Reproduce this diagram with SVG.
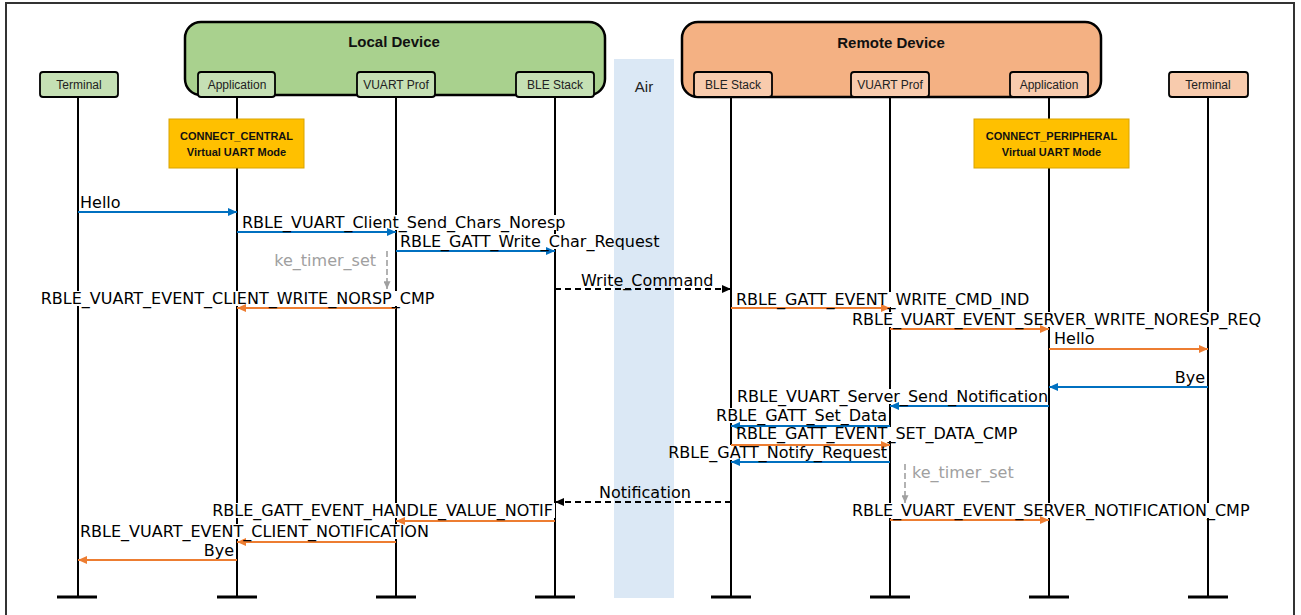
<svg xmlns="http://www.w3.org/2000/svg" width="1301" height="615" viewBox="0 0 1301 615">
<style>
.frame{fill:#fff;stroke:#333;stroke-width:2}
.dev{stroke:#000;stroke-width:2.5}
.part{stroke:#000;stroke-width:1.8}
.ptxt{font-family:"Liberation Sans",Arial,sans-serif;font-size:12px;fill:#222;text-anchor:middle}
.dtxt{font-family:"Liberation Sans",Arial,sans-serif;font-size:15px;font-weight:bold;fill:#111;text-anchor:middle}
.life{stroke:#000;stroke-width:2}
.tbar{stroke:#000;stroke-width:3}
.mode{fill:#ffc000;stroke:#d9a400;stroke-width:1}
.mtxt{font-family:"Liberation Sans",Arial,sans-serif;font-size:11px;font-weight:bold;fill:#111;text-anchor:middle}
.bg{fill:#fff}
.msg{font-family:"DejaVu Sans",Verdana,sans-serif;font-size:16px;fill:#000}
.gtxt{font-family:"DejaVu Sans",Verdana,sans-serif;font-size:16px;fill:#a0a0a0}
.blue{stroke:#0070c0;stroke-width:2;fill:none;marker-end:url(#ab)}
.orange{stroke:#ed7d31;stroke-width:2;fill:none;marker-end:url(#ao)}
.black{stroke:#000;stroke-width:2;fill:none;stroke-dasharray:6 4;marker-end:url(#ak)}
.gray{stroke:#a0a0a0;stroke-width:1.6;fill:none;stroke-dasharray:6 3;marker-end:url(#ag)}
</style>
<defs>
<marker id="ab" viewBox="0 0 9 8" refX="9" refY="4" markerWidth="9" markerHeight="8" markerUnits="userSpaceOnUse" orient="auto"><path d="M0,0 L9,4 L0,8 z" fill="#0070c0"/></marker>
<marker id="ao" viewBox="0 0 9 8" refX="9" refY="4" markerWidth="9" markerHeight="8" markerUnits="userSpaceOnUse" orient="auto"><path d="M0,0 L9,4 L0,8 z" fill="#ed7d31"/></marker>
<marker id="ak" viewBox="0 0 9 8" refX="9" refY="4" markerWidth="9" markerHeight="8" markerUnits="userSpaceOnUse" orient="auto"><path d="M0,0 L9,4 L0,8 z" fill="#000"/></marker>
<marker id="ag" viewBox="0 0 9 8" refX="9" refY="4" markerWidth="8" markerHeight="7" markerUnits="userSpaceOnUse" orient="auto"><path d="M0,0 L9,4 L0,8 z" fill="#a0a0a0"/></marker>
</defs>
<rect x="0" y="0" width="1301" height="615" fill="#fff"/>
<rect class="frame" x="6" y="3" width="1288" height="620"/>

<g id="local-device"><rect class="dev" x="185" y="22" width="420" height="73" rx="16" fill="#a9d18e"/><text class="dtxt" x="394" y="47">Local Device</text></g>
<g id="remote-device"><rect class="dev" x="682" y="22" width="419" height="75" rx="16" fill="#f4b183"/><text class="dtxt" x="891" y="48">Remote Device</text></g>

<g id="lifelines">
<line class="life" x1="78" y1="97" x2="78" y2="597"/>
<line class="life" x1="237" y1="97" x2="237" y2="597"/>
<line class="life" x1="396" y1="97" x2="396" y2="597"/>
<line class="life" x1="555" y1="97" x2="555" y2="597"/>
<line class="life" x1="731" y1="97" x2="731" y2="597"/>
<line class="life" x1="890" y1="97" x2="890" y2="597"/>
<line class="life" x1="1049" y1="97" x2="1049" y2="597"/>
<line class="life" x1="1208" y1="97" x2="1208" y2="597"/>
<line class="tbar" x1="57" y1="597" x2="97" y2="597"/>
<line class="tbar" x1="217" y1="597" x2="257" y2="597"/>
<line class="tbar" x1="376" y1="597" x2="416" y2="597"/>
<line class="tbar" x1="535" y1="597" x2="575" y2="597"/>
<line class="tbar" x1="711" y1="597" x2="751" y2="597"/>
<line class="tbar" x1="870" y1="597" x2="910" y2="597"/>
<line class="tbar" x1="1029" y1="597" x2="1069" y2="597"/>
<line class="tbar" x1="1188" y1="597" x2="1228" y2="597"/>
</g>

<g id="terminal-local"><rect class="part" x="40" y="72" width="78" height="25" rx="3" fill="#c5e0b4"/><text class="ptxt" x="79" y="89">Terminal</text></g>
<g id="application-local"><rect class="part" x="198" y="72" width="77" height="25" rx="3" fill="#c5e0b4"/><text class="ptxt" x="237" y="89">Application</text></g>
<g id="vuart-local"><rect class="part" x="357" y="72" width="78" height="25" rx="3" fill="#c5e0b4"/><text class="ptxt" x="396" y="89">VUART Prof</text></g>
<g id="ble-local"><rect class="part" x="516" y="72" width="78" height="25" rx="3" fill="#c5e0b4"/><text class="ptxt" x="555" y="89">BLE Stack</text></g>
<g id="ble-remote"><rect class="part" x="694" y="72" width="78" height="25" rx="3" fill="#f8cbad"/><text class="ptxt" x="733" y="89">BLE Stack</text></g>
<g id="vuart-remote"><rect class="part" x="851" y="72" width="78" height="25" rx="3" fill="#f8cbad"/><text class="ptxt" x="890" y="89">VUART Prof</text></g>
<g id="application-remote"><rect class="part" x="1010" y="72" width="78" height="25" rx="3" fill="#f8cbad"/><text class="ptxt" x="1049" y="89">Application</text></g>
<g id="terminal-remote"><rect class="part" x="1169" y="72" width="79" height="25" rx="3" fill="#f8cbad"/><text class="ptxt" x="1208" y="89">Terminal</text></g>

<g id="mode-central"><rect class="mode" x="169" y="119" width="135" height="49"/><text class="mtxt" x="236.5" y="140">CONNECT_CENTRAL</text><text class="mtxt" x="236.5" y="156">Virtual UART Mode</text></g>
<g id="mode-peripheral"><rect class="mode" x="974" y="119" width="155" height="49"/><text class="mtxt" x="1051.5" y="140">CONNECT_PERIPHERAL</text><text class="mtxt" x="1051.5" y="156">Virtual UART Mode</text></g>

<g id="label-backgrounds">
<rect class="bg" x="241" y="215" width="327" height="15"/>
<rect class="bg" x="399" y="234" width="266" height="15"/>
<rect class="bg" x="36" y="291" width="404" height="15"/>
<rect class="bg" x="735" y="292" width="301" height="15"/>
<rect class="bg" x="851" y="312" width="414" height="15"/>
<rect class="bg" x="736" y="389" width="312" height="15"/>
<rect class="bg" x="711" y="408" width="178" height="15"/>
<rect class="bg" x="735" y="427" width="287" height="14"/>
<rect class="bg" x="664" y="445" width="225" height="15"/>
<rect class="bg" x="851" y="503" width="406" height="15"/>
<rect class="bg" x="206" y="503" width="349" height="15"/>
<rect class="bg" x="79" y="524" width="361" height="15"/>
</g>

<g id="air"><rect x="614" y="59" width="60" height="539" fill="#dbe8f5"/><text x="644" y="92" font-family="Liberation Sans,Arial,sans-serif" font-size="15" text-anchor="middle" fill="#222">Air</text></g>

<g id="connectors">
<line class="blue" x1="78" y1="212" x2="237" y2="212"/>
<line class="blue" x1="237" y1="232" x2="396" y2="232"/>
<line class="blue" x1="396" y1="251" x2="555" y2="251"/>
<line class="gray" x1="387" y1="251" x2="387" y2="289"/>
<line class="black" x1="555" y1="289" x2="731" y2="289"/>
<line class="orange" x1="396" y1="308" x2="237" y2="308"/>
<line class="orange" x1="731" y1="308" x2="890" y2="308"/>
<line class="orange" x1="890" y1="329" x2="1049" y2="329"/>
<line class="orange" x1="1049" y1="349" x2="1208" y2="349"/>
<line class="blue" x1="1208" y1="387" x2="1049" y2="387"/>
<line class="blue" x1="1049" y1="406" x2="890" y2="406"/>
<line class="blue" x1="890" y1="426" x2="731" y2="426"/>
<line class="orange" x1="731" y1="445" x2="890" y2="445"/>
<line class="blue" x1="890" y1="462" x2="731" y2="462"/>
<line class="gray" x1="905" y1="464" x2="905" y2="503"/>
<line class="black" x1="731" y1="502" x2="555" y2="502"/>
<line class="orange" x1="890" y1="520" x2="1049" y2="520"/>
<line class="orange" x1="555" y1="521" x2="396" y2="521"/>
<line class="orange" x1="396" y1="542" x2="237" y2="542"/>
<line class="orange" x1="237" y1="560" x2="78" y2="560"/>
</g>

<g id="labels">
<text class="msg" x="80" y="208">Hello</text>
<text class="msg" x="242" y="228">RBLE_VUART_Client_Send_Chars_Noresp</text>
<text class="msg" x="400" y="247">RBLE_GATT_Write_Char_Request</text>
<text class="gtxt" x="376" y="266" text-anchor="end">ke_timer_set</text>
<text class="msg" x="581" y="286">Write_Command</text>
<text class="msg" x="237.5" y="304" text-anchor="middle">RBLE_VUART_EVENT_CLIENT_WRITE_NORSP_CMP</text>
<text class="msg" x="736" y="305">RBLE_GATT_EVENT_WRITE_CMD_IND</text>
<text class="msg" x="852" y="325">RBLE_VUART_EVENT_SERVER_WRITE_NORESP_REQ</text>
<text class="msg" x="1054" y="344">Hello</text>
<text class="msg" x="1205" y="383" text-anchor="end">Bye</text>
<text class="msg" x="737" y="402">RBLE_VUART_Server_Send_Notification</text>
<text class="msg" x="887" y="421" text-anchor="end">RBLE_GATT_Set_Data</text>
<text class="msg" x="736" y="439">RBLE_GATT_EVENT_SET_DATA_CMP</text>
<text class="msg" x="887" y="458" text-anchor="end">RBLE_GATT_Notify_Request</text>
<text class="gtxt" x="912" y="478">ke_timer_set</text>
<text class="msg" x="599" y="498">Notification</text>
<text class="msg" x="852" y="516">RBLE_VUART_EVENT_SERVER_NOTIFICATION_CMP</text>
<text class="msg" x="553" y="516" text-anchor="end">RBLE_GATT_EVENT_HANDLE_VALUE_NOTIF</text>
<text class="msg" x="80" y="537">RBLE_VUART_EVENT_CLIENT_NOTIFICATION</text>
<text class="msg" x="234" y="556" text-anchor="end">Bye</text>
</g>
</svg>
